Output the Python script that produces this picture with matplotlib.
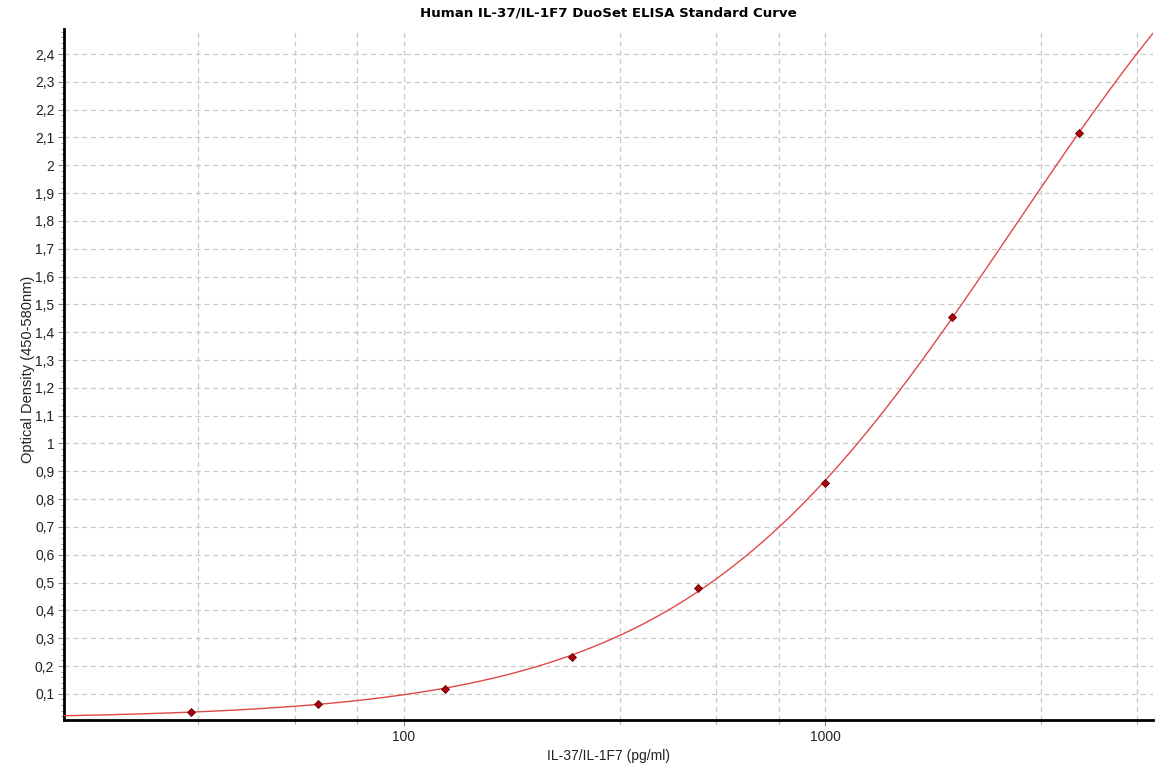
import numpy as np
import matplotlib
matplotlib.use("Agg")
import matplotlib.pyplot as plt
from matplotlib.ticker import FixedLocator, FuncFormatter, NullFormatter

# Standards (2-fold dilution series) and measured OD
conc = [31.25, 62.5, 125, 250, 500, 1000, 2000, 4000]
od = [0.035, 0.064, 0.118, 0.233, 0.481, 0.858, 1.454, 2.116]

x_major = [100, 1000]
x_minor = [32.5, 55, 77.5, 325, 550, 775, 3250, 5500]
y_ticks = [round(0.1 * i, 1) for i in range(1, 25)]


def four_pl(x, p):
    a, b, logc, d = p
    return d + (a - d) / (1.0 + (x / np.exp(logc)) ** b)


def fit_4pl(x, y):
    # small Levenberg-Marquardt, no scipy around
    x = np.asarray(x, float)
    y = np.asarray(y, float)
    p = np.array([0.01, 1.2, np.log(3000.0), 4.0])
    lam = 1e-2
    for _ in range(500):
        r = y - four_pl(x, p)
        J = np.zeros((len(x), 4))
        for k in range(4):
            dp = np.zeros(4)
            dp[k] = 1e-6 * max(1.0, abs(p[k]))
            J[:, k] = (four_pl(x, p + dp) - four_pl(x, p)) / dp[k]
        A = J.T @ J
        g = J.T @ r
        step = np.linalg.solve(A + lam * np.diag(np.diag(A)), g)
        p_new = p + step
        if np.sum((y - four_pl(x, p_new)) ** 2) < np.sum(r ** 2):
            p = p_new
            lam *= 0.5
        else:
            lam *= 4.0
    return p


params = fit_4pl(conc, od)

fig = plt.figure(figsize=(11.76, 7.64), dpi=100)
ax = fig.add_axes([64 / 1176, 44 / 764, 1089 / 1176, 691 / 764])

xmin, xmax = 15.6, 6000
xs = np.logspace(np.log10(xmin), np.log10(xmax), 400)
ax.plot(xs, four_pl(xs, params), color="#e04848", lw=1.0, zorder=3)
ax.plot(conc, od, linestyle="none", marker="D", ms=4.5,
        markerfacecolor="#b00010", markeredgecolor="#600000", mew=0.6, zorder=4)

ax.set_xscale("log")
ax.set_xlim(xmin, xmax)
ax.set_ylim(0.006, 2.49)

ax.xaxis.set_major_locator(FixedLocator(x_major))
ax.xaxis.set_minor_locator(FixedLocator(x_minor))
ax.xaxis.set_major_formatter(FuncFormatter(lambda v, pos: "%d" % v))
ax.xaxis.set_minor_formatter(NullFormatter())

ax.yaxis.set_major_locator(FixedLocator(y_ticks))
ax.yaxis.set_minor_locator(FixedLocator([0.02 * i for i in range(1, 125)]))
ax.yaxis.set_major_formatter(
    FuncFormatter(lambda v, pos: ("%g" % round(v, 1)).replace(".", ",")))

grid_kw = dict(color="#c8c8c8", linestyle=(0, (4, 3)), linewidth=0.9)
ax.grid(True, which="major", axis="both", **grid_kw)
ax.grid(True, which="minor", axis="x", **grid_kw)
ax.set_axisbelow(True)

for side in ("top", "right"):
    ax.spines[side].set_visible(False)
for side in ("left", "bottom"):
    ax.spines[side].set_linewidth(2.0)
    ax.spines[side].set_color("black")

ax.tick_params(axis="both", which="major", length=4, width=0.8, color="#888888",
               labelsize=10, labelcolor="#222222", pad=3)
ax.tick_params(axis="x", which="minor", length=3, width=0.8, color="#aaaaaa")
ax.tick_params(axis="y", which="minor", length=2, width=0.6, color="#888888")

for lab in ax.get_xticklabels() + ax.get_yticklabels():
    lab.set_family("Liberation Sans")

ax.set_xlabel("IL-37/IL-1F7 (pg/ml)", fontsize=10, family="Liberation Sans",
              color="#222222", labelpad=4)
ax.set_ylabel("Optical Density (450-580nm)", fontsize=10.5, family="Liberation Sans",
              color="#222222")
ax.yaxis.set_label_coords(-29 / 1089, 0.508)
ax.set_title("Human IL-37/IL-1F7 DuoSet ELISA Standard Curve", fontsize=9.6,
             fontweight="bold", family="DejaVu Sans", pad=9)

fig.savefig("out.png", dpi=100, facecolor="white")
